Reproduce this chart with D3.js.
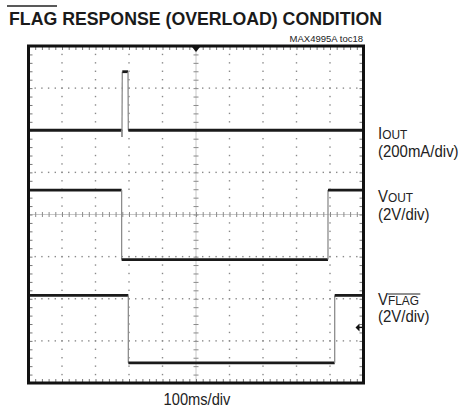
<!DOCTYPE html>
<html><head><meta charset="utf-8">
<script src="https://cdn.jsdelivr.net/npm/d3@7"></script>
<style>
html,body{margin:0;padding:0;background:#fff;}
svg{display:block;font-family:"Liberation Sans",Arial,Helvetica,sans-serif;}
</style></head>
<body><svg id="c" width="462" height="411"></svg>
<script>
// ---- data (time in ms from left edge of screen, 100 ms/div) ----
const iOutTime = [0, 279, 279, 280, 297, 298, 1000];
const iOutMA   = [0, 0, -32, 278, 278, 0, 0];          // 200 mA/div
const vOutTime = [0, 278, 278, 894, 894, 1000];
const vOutV    = [3.3, 3.3, 0, 0, 3.3, 3.3];           // 2 V/div
const vFlagTime = [0, 298, 298, 914, 914, 1000];
const vFlagV    = [3.2, 3.2, 0, 0, 3.2, 3.2];          // 2 V/div
const traceScale  = [200, 2, 2];       // units per division
const traceOffset = [2.0, -1.07, -3.52]; // zero position in divisions from centre
const titleText = "FLAG RESPONSE (OVERLOAD) CONDITION";
const tocText = "MAX4995A toc18";
const xLabel = "100ms/div";

const svg = d3.select("#c");
const x0 = 28.5, x1 = 363.5, yTop = 46, yBot = 383;
const x = d3.scaleLinear().domain([0, 1000]).range([x0, x1]);
const y = d3.scaleLinear().domain([-4, 4]).range([yBot, yTop]);

const minorX = d3.range(0, 1000.001, 20);
const minorY = d3.range(-4, 4.001, 0.2);

// grid dots
const g = svg.append("g");
const majorX = d3.range(100, 1000, 100).filter(v => v !== 500);
const majorY = d3.range(-3, 4, 1).filter(v => v !== 0);
majorX.forEach(mx => {
  minorY.forEach(my => {
    g.append("rect").attr("x", x(mx) - 0.7).attr("y", y(my) - 0.7)
      .attr("width", 1.4).attr("height", 1.4).attr("fill", "#8a8a8a");
  });
});
majorY.forEach(my => {
  minorX.forEach(mx => {
    g.append("rect").attr("x", x(mx) - 0.7).attr("y", y(my) - 0.7)
      .attr("width", 1.4).attr("height", 1.4).attr("fill", "#8a8a8a");
  });
});

// centre crosshair
g.append("line").attr("x1", x(500)).attr("x2", x(500)).attr("y1", yTop).attr("y2", yBot)
  .attr("stroke", "#c8c8c8").attr("stroke-width", 1);
g.append("line").attr("x1", x0).attr("x2", x1).attr("y1", y(0)).attr("y2", y(0))
  .attr("stroke", "#c8c8c8").attr("stroke-width", 1);

function styleAxis(sel, col) {
  sel.select(".domain").remove();
  sel.selectAll(".tick line").attr("stroke", col).attr("stroke-width", 1);
  sel.selectAll(".tick text").remove();
}
svg.append("g").attr("transform", `translate(0,${y(0) - 2.5})`)
  .call(d3.axisBottom(x).tickValues(minorX).tickSize(5).tickFormat(""))
  .call(s => styleAxis(s, "#8a8a8a"));
svg.append("g").attr("transform", `translate(${x(500) - 2.5},0)`)
  .call(d3.axisRight(y).tickValues(minorY).tickSize(5).tickFormat(""))
  .call(s => styleAxis(s, "#8a8a8a"));

// border ticks
svg.append("g").attr("transform", `translate(0,${yTop})`)
  .call(d3.axisBottom(x).tickValues(minorX).tickSize(4).tickFormat(""))
  .call(s => styleAxis(s, "#777"));
svg.append("g").attr("transform", `translate(0,${yBot})`)
  .call(d3.axisTop(x).tickValues(minorX).tickSize(4).tickFormat(""))
  .call(s => styleAxis(s, "#777"));
svg.append("g").attr("transform", `translate(${x0},0)`)
  .call(d3.axisRight(y).tickValues(minorY).tickSize(4).tickFormat(""))
  .call(s => styleAxis(s, "#777"));
svg.append("g").attr("transform", `translate(${x1},0)`)
  .call(d3.axisLeft(y).tickValues(minorY).tickSize(4).tickFormat(""))
  .call(s => styleAxis(s, "#777"));

// traces
const traces = [
  {t: iOutTime, v: iOutMA},
  {t: vOutTime, v: vOutV},
  {t: vFlagTime, v: vFlagV}
];
const tg = svg.append("g");
traces.forEach((tr, k) => {
  const pts = tr.t.map((t, i) => [x(t), y(tr.v[i] / traceScale[k] + traceOffset[k])]);
  for (let i = 0; i < pts.length - 1; i++) {
    const a = pts[i], b = pts[i + 1];
    const vertical = Math.abs(b[1] - a[1]) > 3 * Math.abs(b[0] - a[0]);
    tg.append("line").attr("x1", a[0]).attr("y1", a[1]).attr("x2", b[0]).attr("y2", b[1])
      .attr("stroke", vertical ? "#8c8c8c" : "#1a1a1a")
      .attr("stroke-width", vertical ? 1.3 : 2.8);
  }
});

// frame
svg.append("rect").attr("x", x0).attr("y", yTop).attr("width", x1 - x0).attr("height", yBot - yTop)
  .attr("fill", "none").attr("stroke", "#111").attr("stroke-width", 3);

// trigger markers
const cx = x(500);
svg.append("path").attr("d", `M${cx - 4},${yTop + 1} L${cx + 4},${yTop + 1} L${cx},${yTop + 6} Z`).attr("fill", "#111");
const my = y(-2.68);
svg.append("path").attr("d", `M${x1 - 8},${my} L${x1 - 4},${my - 4} L${x1 - 4},${my + 4} Z`).attr("fill", "#111");
svg.append("line").attr("x1", x1 - 5).attr("x2", x1 - 1).attr("y1", my).attr("y2", my).attr("stroke", "#111").attr("stroke-width", 1.4);

// title
svg.append("text").attr("x", 9).attr("y", 25).attr("font-size", 17.5).attr("font-weight", "bold")
  .attr("fill", "#1a1a1a").attr("textLength", 373).attr("lengthAdjust", "spacingAndGlyphs").text(titleText);
svg.append("line").attr("x1", 7).attr("x2", 57).attr("y1", 6).attr("y2", 6).attr("stroke", "#222").attr("stroke-width", 1.4);
svg.append("text").attr("x", 363).attr("y", 41.5).attr("font-size", 9.5).attr("text-anchor", "end")
  .attr("fill", "#222").text(tocText);

// x label
svg.append("g").attr("transform", "translate(197,405) scale(0.9,1)")
  .append("text").attr("text-anchor", "middle").attr("font-size", 16.3).attr("fill", "#222").text(xLabel);

// right labels
function label(yb, main, sub, over, second, yb2) {
  const gg = svg.append("g").attr("transform", `translate(378,0) scale(0.88,1)`);
  const t = gg.append("text").attr("x", 0).attr("y", yb).attr("font-size", 17).attr("fill", "#222");
  t.append("tspan").text(main);
  t.append("tspan").attr("font-size", 13.5).attr("dy", 0.5).text(sub);
  if (over) {
    const mainW = 17 * 0.667;              // width of "V" at 17px
    const subW = 13.5 * 2.722;             // width of "FLAG" at 13.5px
    gg.append("line").attr("x1", mainW).attr("x2", mainW + subW)
      .attr("y1", yb - 11).attr("y2", yb - 11).attr("stroke", "#222").attr("stroke-width", 1.1);
  }
  gg.append("text").attr("x", 0).attr("y", yb2).attr("font-size", 17).attr("fill", "#222").text(second);
}
label(139, "I", "OUT", false, "(200mA/div)", 157.5);
label(201.7, "V", "OUT", false, "(2V/div)", 220.5);
label(305, "V", "FLAG", true, "(2V/div)", 322.5);
</script></body></html>
